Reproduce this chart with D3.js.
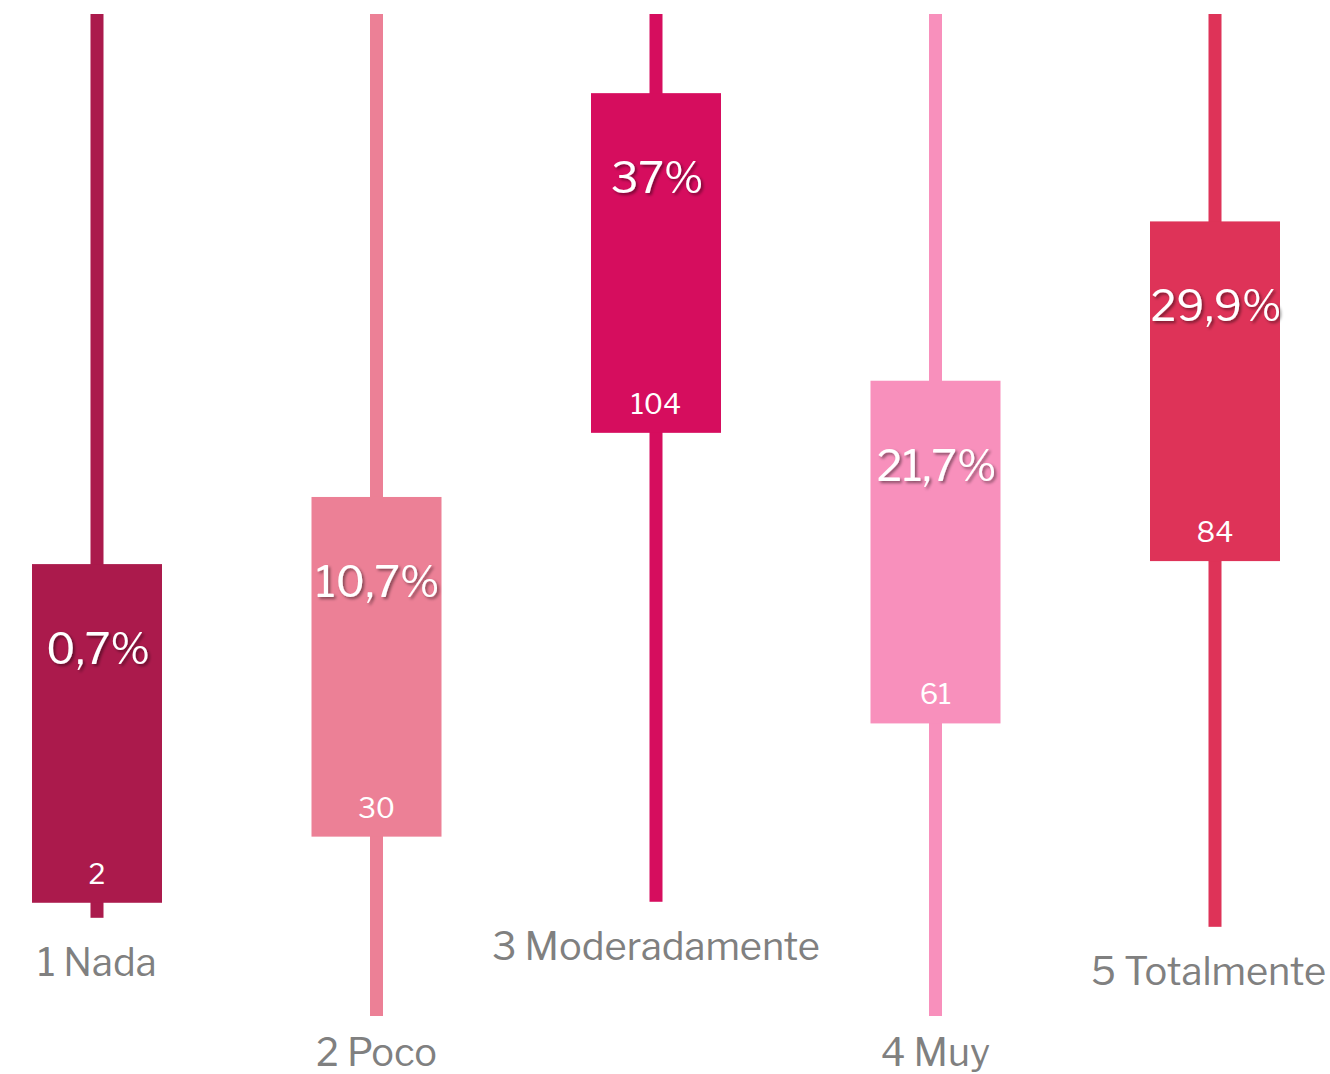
<!DOCTYPE html>
<html>
<head>
<meta charset="utf-8">
<script src="https://cdn.jsdelivr.net/npm/d3@7"></script>
<style>
  body { margin: 0; background: #fff; }
  svg { display: block; }
</style>
</head>
<body>
<div id="chart"></div>
<script>
// categories and values (candle style: high, open, close, low on a 0-100 scale)
var categories = ["1 Nada", "2 Poco", "3 Moderadamente", "4 Muy", "5 Totalmente"];
var highs  = [100, 100, 100, 100, 100];
var tops   = [45.1, 51.8, 92.1, 63.4, 79.3];
var bottoms = [11.3, 17.9, 58.2, 29.2, 45.4];
var lows   = [9.8, 0, 11.4, 0, 8.9];
var percents = ["0,7%", "10,7%", "37%", "21,7%", "29,9%"];
var counts = ["2", "30", "104", "61", "84"];
var colors = ["#AB1A4C", "#EC8096", "#D60D5E", "#F890BC", "#DE3358"];

var width = 1330;
var height = 1074;

var data = categories.map((c, i) => ({
  cat: c, high: highs[i], top: tops[i], bottom: bottoms[i], low: lows[i],
  pct: percents[i], n: counts[i], color: colors[i]
}));

var svg = d3.select("#chart").append("svg")
  .attr("width", width)
  .attr("height", height);

// text shadow for the percent labels
var filter = svg.append("defs").append("filter")
  .attr("id", "shadow")
  .attr("x", "-20%").attr("y", "-20%")
  .attr("width", "140%").attr("height", "160%");
filter.append("feDropShadow")
  .attr("dx", 2).attr("dy", 2)
  .attr("stdDeviation", 1.5)
  .attr("flood-color", "#000")
  .attr("flood-opacity", 0.45);

var x = d3.scalePoint()
  .domain(categories)
  .range([97, 1215]);

var y = d3.scaleLinear()
  .domain([0, 100])
  .range([1016, 14]);

var boxW = 130;
var font = "'Libre Franklin', 'Franklin Gothic Medium', Roboto, 'Liberation Sans', sans-serif";

var g = svg.selectAll("g.candle")
  .data(data)
  .enter()
  .append("g")
  .attr("class", "candle")
  .attr("transform", d => "translate(" + x(d.cat) + ",0)");

// whisker
g.append("rect")
  .attr("x", -6.5)
  .attr("width", 13)
  .attr("y", d => y(d.high))
  .attr("height", d => y(d.low) - y(d.high))
  .attr("fill", d => d.color);

// box
g.append("rect")
  .attr("x", -boxW / 2)
  .attr("width", boxW)
  .attr("y", d => y(d.top))
  .attr("height", d => y(d.bottom) - y(d.top))
  .attr("fill", d => d.color);

// percent label
g.append("text")
  .attr("x", 1)
  .attr("y", d => y(d.top) + 100)
  .attr("text-anchor", "middle")
  .attr("font-family", font)
  .attr("font-size", 43)
  .attr("fill", "#fff")
  .attr("filter", "url(#shadow)")
  .text(d => d.pct);

// count label
g.append("text")
  .attr("x", 0)
  .attr("y", d => y(d.bottom) - 19)
  .attr("text-anchor", "middle")
  .attr("font-family", font)
  .attr("font-size", 28)
  .attr("fill", "#fff")
  .text(d => d.n);

// category label under the whisker, kept inside the picture
g.append("text")
  .attr("y", d => Math.min(y(d.low) + 58, 1066))
  .attr("text-anchor", "middle")
  .attr("font-family", font)
  .attr("font-size", 38)
  .attr("fill", "#808080")
  .text(d => d.cat)
  .attr("x", function(d) {
    var w = this.getComputedTextLength();
    var cx = x(d.cat);
    var left = Math.max(12, Math.min(cx - w / 2, width - 4 - w));
    return left + w / 2 - cx;
  });
</script>
</body>
</html>
